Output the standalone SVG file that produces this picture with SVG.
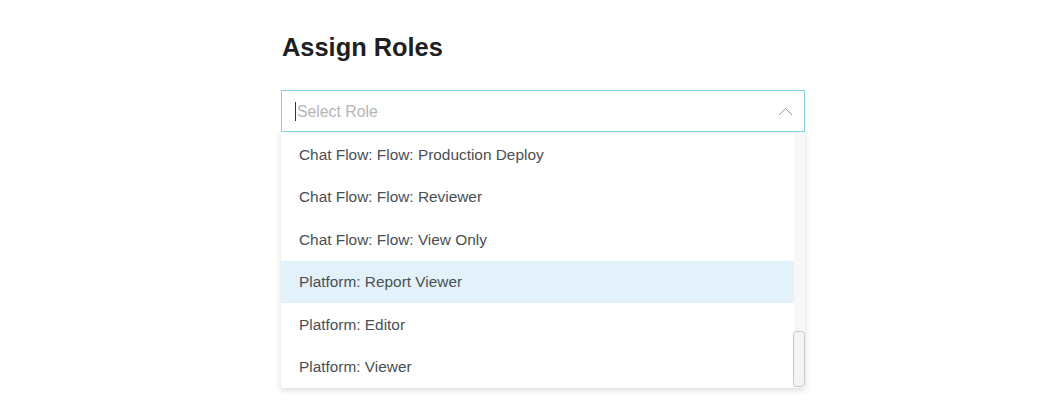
<svg xmlns="http://www.w3.org/2000/svg" width="1052" height="413" viewBox="0 0 1052 413">
<defs>
<filter id="sh" x="-5%" y="-5%" width="110%" height="115%">
<feDropShadow dx="0" dy="2" stdDeviation="3" flood-color="#000" flood-opacity="0.15"/>
</filter>
<style>
.item{font-family:"Liberation Sans",Arial,sans-serif;font-size:15.4px;fill:#4a4f55}
</style>
</defs>
<rect width="1052" height="413" fill="#fff"/>
<text x="282" y="56" font-family="Liberation Sans,Arial,sans-serif" font-size="25.4" font-weight="bold" fill="#1d1f22">Assign Roles</text>
<g id="dropdown">
<rect x="281" y="132" width="524" height="256" fill="#fff" filter="url(#sh)"/>
<rect x="281" y="261" width="513" height="42" fill="#e3f2fa"/>
<rect x="794" y="132" width="11" height="256" fill="#f7f7f7"/>
<rect x="793.5" y="331.5" width="11" height="55" rx="3" fill="#f4f4f4" stroke="#c8c8c8"/>
<text class="item" x="299" y="160">Chat Flow: Flow: Production Deploy</text>
<text class="item" x="299" y="202">Chat Flow: Flow: Reviewer</text>
<text class="item" x="299" y="245">Chat Flow: Flow: View Only</text>
<text class="item" x="299" y="287">Platform: Report Viewer</text>
<text class="item" x="299" y="330">Platform: Editor</text>
<text class="item" x="299" y="372">Platform: Viewer</text>
</g>
<g id="select">
<rect x="281.5" y="90.5" width="523" height="41" fill="#fff" stroke="#80d0df"/>
<line x1="295.5" y1="102" x2="295.5" y2="121" stroke="#333"/>
<text x="297" y="117" font-family="Liberation Sans,Arial,sans-serif" font-size="15.8" fill="#b5b5b5">Select Role</text>
<polyline points="779,115 785.5,108.5 792,115" fill="none" stroke="#999" stroke-width="1"/>
</g>
</svg>
